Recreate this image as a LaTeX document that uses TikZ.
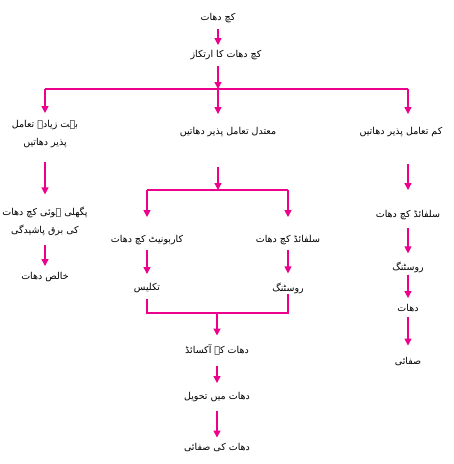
\documentclass[tikz,border=0pt]{standalone}
\usepackage{fontspec}
\newfontfamily\urdufont[Script=Arabic]{DejaVu Sans}
\TeXXeTstate=1
\usetikzlibrary{arrows.meta}
\definecolor{flowpink}{RGB}{236,0,140}

\begin{document}
\begin{tikzpicture}[x=1pt,y=-1pt,
  txt/.style={font=\urdufont\fontsize{9.5}{18}\selectfont,inner sep=0pt,align=center},
  ln/.style={draw=flowpink,line width=1.3pt},
  arr/.style={ln,-{Triangle[width=7pt,length=7pt]}}]
\useasboundingbox (0,0) rectangle (454,464);

\node[txt] (ore) at (218,18) {\beginR کچ دھات\endR};
\node[txt] (conc) at (226,55) {\beginR کچ دھات کا ارتکاز\endR};

\coordinate (a) at (218,89);
\coordinate (al) at (45,89);
\coordinate (ar) at (408,89);

\node[txt] (high) at (45,134) {\beginR بہت زیادہ تعامل\endR\\\beginR پذیر دھاتیں\endR};
\node[txt] (mid) at (228,132) {\beginR معتدل تعامل پذیر دھاتیں\endR};
\node[txt] (low) at (401,132) {\beginR کم تعامل پذیر دھاتیں\endR};

\node[txt] (elec) at (45,221) {\beginR پگھلی ہوئی کچ دھات\endR\\\beginR کی برق پاشیدگی\endR};
\node[txt] (pure) at (45,277) {\beginR خالص دھات\endR};

\coordinate (b) at (218,190);
\coordinate (bl) at (147,190);
\coordinate (br) at (288,190);
\node[txt] (carb) at (147,240) {\beginR کاربونیٹ کچ دھات\endR};
\node[txt] (sulf) at (288,240) {\beginR سلفائڈ کچ دھات\endR};
\node[txt] (calc) at (147,288) {\beginR تکلیس\endR};
\node[txt] (roast) at (288,288) {\beginR روسٹنگ\endR};

\coordinate (c) at (217,313);
\coordinate (cl) at (147,313);
\coordinate (cr) at (288,313);
\node[txt] (oxide) at (217,350) {\beginR دھات کے آکسائڈ\endR};
\node[txt] (red) at (217,397) {\beginR دھات میں تحویل\endR};
\node[txt] (refine) at (217,448) {\beginR دھات کی صفائی\endR};

\node[txt] (sulfb) at (408,215) {\beginR سلفائڈ کچ دھات\endR};
\node[txt] (roastb) at (408,267) {\beginR روسٹنگ\endR};
\node[txt] (metal) at (408,308) {\beginR دھات\endR};
\node[txt] (clean) at (408,362) {\beginR صفائی\endR};

\draw[arr,shorten <=6pt,shorten >=5pt] (ore) -- (conc.north -| ore);
\draw[arr,shorten <=6pt] (conc.south -| a) -- (a);
\draw[ln] (al) -- (ar);
\draw[arr,shorten >=7pt] (al) -- (high);
\draw[arr,shorten >=13pt] (a) -- (a |- mid.north);
\draw[arr,shorten >=13pt] (ar) -- (ar |- low.north);

\draw[arr,shorten <=14pt,shorten >=12pt] (high) -- (elec);
\draw[arr,shorten <=9pt,shorten >=6pt] (elec) -- (pure);

\draw[arr,shorten <=30pt] (mid.south -| b) -- (b);
\draw[ln] (bl) -- (br);
\draw[arr,shorten >=18pt] (bl) -- (carb);
\draw[arr,shorten >=18pt] (br) -- (sulf);
\draw[arr,shorten <=5pt,shorten >=9pt] (carb) -- (calc);
\draw[arr,shorten <=5pt,shorten >=9pt] (sulf) -- (roast);
\draw[ln,shorten <=6pt] (calc) -- (cl) -- (cr) -- (roast);
\draw[arr,shorten >=9pt] (c) -- (oxide);
\draw[arr,shorten <=10pt,shorten >=9pt] (oxide) -- (red);
\draw[arr,shorten <=9pt,shorten >=6pt] (red) -- (refine);

\draw[arr,shorten <=27pt,shorten >=20pt] (low.south -| ar) -- (sulfb);
\draw[arr,shorten <=8pt,shorten >=8pt] (sulfb) -- (roastb);
\draw[arr,shorten <=2pt,shorten >=6pt] (roastb) -- (metal);
\draw[arr,shorten <=5pt,shorten >=12pt] (metal) -- (clean);
\end{tikzpicture}
\end{document}
